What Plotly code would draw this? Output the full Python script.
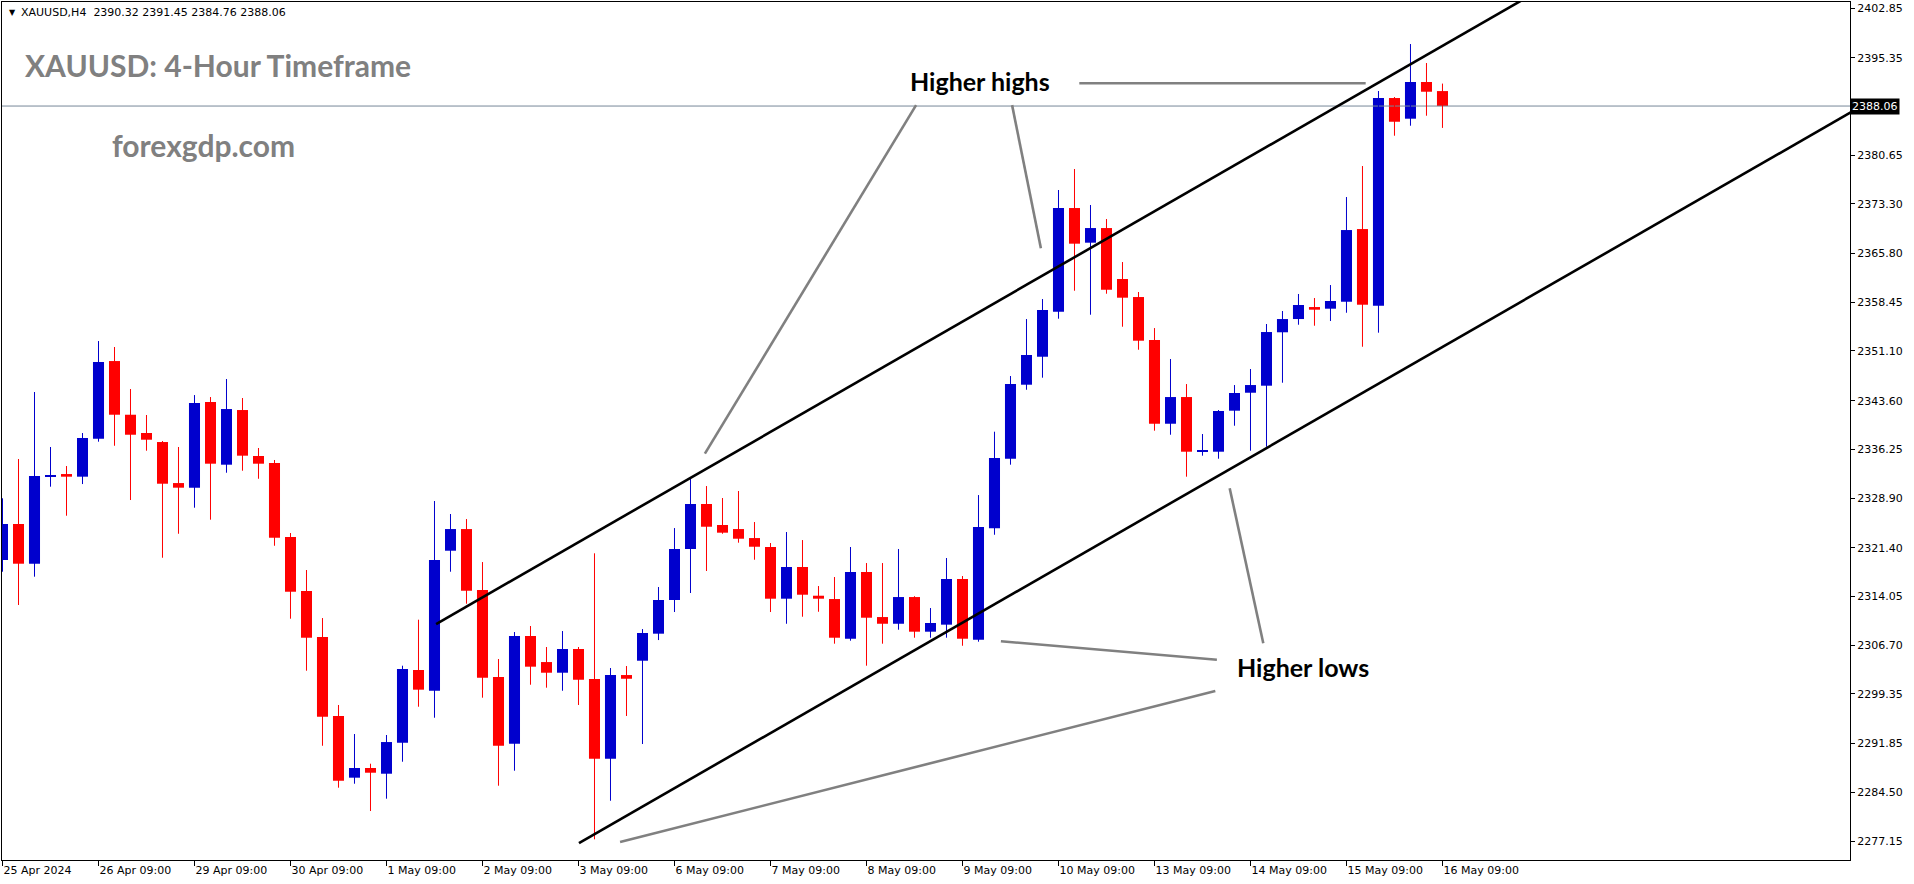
import plotly.graph_objects as go

# ---------------- data ----------------
day_labels = ["25 Apr 2024", "26 Apr 09:00", "29 Apr 09:00", "30 Apr 09:00", "1 May 09:00",
              "2 May 09:00", "3 May 09:00", "6 May 09:00", "7 May 09:00", "8 May 09:00",
              "9 May 09:00", "10 May 09:00", "13 May 09:00", "14 May 09:00", "15 May 09:00",
              "16 May 09:00"]
bars_per_day = 6

opens = [2319.56, 2324.99, 2319.00, 2332.20, 2332.53, 2332.13, 2337.86, 2349.58, 2341.48, 2338.72,
         2337.36, 2331.17, 2330.47, 2343.40, 2333.94, 2342.19, 2335.25, 2334.19, 2323.03, 2314.88,
         2307.93, 2296.01, 2286.71, 2288.17, 2287.31, 2291.99, 2302.96, 2299.84, 2320.96, 2324.23,
         2315.03, 2301.90, 2291.84, 2308.09, 2304.16, 2302.55, 2306.13, 2301.60, 2289.57, 2302.20,
         2304.36, 2308.44, 2313.52, 2321.22, 2328.01, 2324.84, 2324.23, 2322.87, 2321.52, 2313.72,
         2318.50, 2314.17, 2313.67, 2307.68, 2317.75, 2310.95, 2309.94, 2313.97, 2308.74, 2309.80,
         2316.69, 2307.53, 2324.34, 2334.84, 2346.01, 2350.23, 2357.02, 2372.67, 2367.44, 2369.65,
         2361.96, 2359.24, 2352.75, 2340.12, 2344.15, 2335.95, 2335.90, 2342.09, 2344.80, 2345.86,
         2353.92, 2355.92, 2357.73, 2357.48, 2358.53, 2369.50, 2357.93, 2389.27, 2386.15, 2391.69,
         2390.32]
highs = [2328.87, 2334.80, 2344.91, 2336.61, 2333.74, 2338.72, 2352.60, 2351.70, 2345.36, 2341.44,
         2337.51, 2336.61, 2344.45, 2344.15, 2346.87, 2344.00, 2336.46, 2334.65, 2323.63, 2318.05,
         2310.80, 2297.68, 2293.30, 2288.82, 2293.15, 2303.61, 2310.55, 2328.46, 2326.50, 2325.74,
         2319.25, 2304.62, 2308.69, 2309.60, 2306.43, 2308.84, 2306.43, 2320.57, 2303.26, 2303.56,
         2309.14, 2315.48, 2324.38, 2331.78, 2330.72, 2328.91, 2329.97, 2325.29, 2322.12, 2323.78,
         2322.57, 2315.63, 2316.99, 2321.52, 2319.10, 2319.10, 2321.22, 2314.10, 2312.31, 2319.86,
         2317.14, 2329.36, 2338.92, 2347.32, 2355.92, 2358.94, 2375.39, 2378.56, 2373.13, 2371.01,
         2364.52, 2360.00, 2354.56, 2349.89, 2346.11, 2338.57, 2342.19, 2345.96, 2348.38, 2355.17,
         2357.13, 2359.70, 2359.09, 2361.05, 2374.33, 2379.01, 2390.33, 2389.42, 2397.42, 2394.55,
         2391.45]
lows = [2317.79, 2312.77, 2317.04, 2330.62, 2326.24, 2331.02, 2337.41, 2336.80, 2328.61, 2336.05,
        2319.90, 2323.52, 2327.45, 2325.64, 2332.73, 2333.03, 2331.82, 2321.71, 2310.70, 2302.85,
        2291.53, 2285.20, 2285.80, 2281.68, 2283.54, 2289.12, 2297.42, 2295.76, 2317.79, 2312.96,
        2298.78, 2285.50, 2287.76, 2300.74, 2300.29, 2299.83, 2297.68, 2277.41, 2283.23, 2296.02,
        2291.79, 2307.48, 2311.71, 2314.58, 2317.90, 2323.52, 2322.17, 2319.60, 2311.71, 2309.94,
        2311.00, 2311.75, 2306.93, 2307.38, 2303.61, 2306.93, 2309.04, 2307.83, 2307.83, 2307.83,
        2306.62, 2307.23, 2323.37, 2333.94, 2345.25, 2347.07, 2355.97, 2360.19, 2356.57, 2359.74,
        2354.76, 2351.29, 2339.07, 2338.46, 2332.13, 2335.30, 2334.84, 2339.82, 2336.05, 2336.65,
        2346.31, 2355.06, 2354.91, 2355.62, 2356.87, 2351.74, 2353.86, 2383.58, 2385.09, 2386.60,
        2384.76]
closes = [2324.99, 2319.00, 2332.23, 2332.35, 2332.13, 2337.97, 2349.43, 2341.48, 2338.46, 2337.71,
          2331.07, 2330.47, 2343.25, 2334.09, 2342.34, 2335.30, 2334.09, 2322.92, 2314.77, 2307.83,
          2295.91, 2286.25, 2288.17, 2287.46, 2292.09, 2303.11, 2299.99, 2319.56, 2324.23, 2314.92,
          2301.79, 2291.53, 2308.09, 2303.46, 2302.55, 2306.13, 2301.49, 2289.57, 2302.20, 2301.64,
          2308.54, 2313.52, 2321.22, 2328.01, 2324.58, 2323.68, 2322.77, 2321.56, 2313.72, 2318.50,
          2314.32, 2313.72, 2307.83, 2317.75, 2310.85, 2309.94, 2313.97, 2308.74, 2310.05, 2316.69,
          2307.68, 2324.54, 2334.95, 2346.11, 2350.49, 2357.28, 2372.67, 2367.29, 2369.65, 2360.34,
          2359.14, 2352.65, 2340.12, 2344.15, 2335.90, 2336.10, 2342.04, 2344.76, 2345.96, 2353.96,
          2355.92, 2358.04, 2357.33, 2358.64, 2369.35, 2358.08, 2389.27, 2385.69, 2391.69, 2390.22,
          2388.06]

price_ticks = [2402.85, 2395.35, 2380.65, 2373.30, 2365.80, 2358.45, 2351.10, 2343.60, 2336.25,
               2328.90, 2321.40, 2314.05, 2306.70, 2299.35, 2291.85, 2284.50, 2277.15]
last_price = 2388.06
header_text = "XAUUSD,H4\u00a0\u00a02390.32 2391.45 2384.76 2388.06"

# channel anchor points (bar index, price)
upper_channel = [(27.1, 2309.90), (81.1, 2384.80)]
lower_channel = [(36.03, 2276.85), (112.4, 2382.78)]
# grey pointer lines (bar index, price)
pointer_lines = [
    [(57.1, 2388.2), (43.9, 2335.6)],
    [(63.1, 2388.2), (64.9, 2366.6)],
    [(67.3, 2391.5), (85.2, 2391.5)],
    [(76.7, 2330.4), (78.8, 2307.0)],
    [(62.4, 2307.3), (75.9, 2304.5)],
    [(38.6, 2277.0), (75.8, 2299.8)],
]

# ---------------- geometry ----------------
W, H = 1914, 884
ML, MR, MT, MB = 2, 64, 2, 24
PW, PH = W - ML - MR, H - MT - MB
X_RANGE = [-0.031, 115.47]
Y_RANGE = [2274.29, 2403.76]


def px(xp):
    return (xp - ML) / PW


def py(yp):
    return (H - MB - yp) / PH


BLUE = "#0000CD"
RED = "#FF0000"

fig = go.Figure()

# current price line
fig.add_trace(go.Scatter(x=[X_RANGE[0] - 5, X_RANGE[1] + 5], y=[last_price, last_price],
                         mode="lines", line=dict(color="#778899", width=1),
                         hoverinfo="skip", showlegend=False))

idx = list(range(len(opens)))
for bull, color in [(True, BLUE), (False, RED)]:
    sel = [i for i in idx if (closes[i] >= opens[i]) == bull]
    wx, wy = [], []
    for i in sel:
        wx += [i, i, None]
        wy += [lows[i], highs[i], None]
    fig.add_trace(go.Scatter(x=wx, y=wy, mode="lines", line=dict(color=color, width=1),
                             hoverinfo="skip", showlegend=False))
    fig.add_trace(go.Bar(x=sel,
                         base=[min(opens[i], closes[i]) for i in sel],
                         y=[max(abs(closes[i] - opens[i]), 0.16) for i in sel],
                         width=0.69, marker=dict(color=color, line=dict(width=0)),
                         hoverinfo="skip", showlegend=False))


def ray(points, x_end):
    (x0, y0), (x1, y1) = points
    k = (y1 - y0) / (x1 - x0)
    return [x0, x_end], [y0, y0 + k * (x_end - x0)]


for ch in (upper_channel, lower_channel):
    xs, ys = ray(ch, X_RANGE[1] + 2)
    fig.add_trace(go.Scatter(x=xs, y=ys, mode="lines", line=dict(color="black", width=2.6),
                             hoverinfo="skip", showlegend=False))

for seg in pointer_lines:
    fig.add_trace(go.Scatter(x=[p[0] for p in seg], y=[p[1] for p in seg], mode="lines",
                             line=dict(color="#808080", width=2.6),
                             hoverinfo="skip", showlegend=False))

axis_font = dict(family="DejaVu Sans", size=11, color="black")
annotations = [
    dict(text="\u25bc", x=px(7), y=py(12), xref="paper", yref="paper", xanchor="left",
         yanchor="middle", showarrow=False, font=dict(family="DejaVu Sans", size=8, color="black")),
    dict(text=header_text, x=px(19), y=py(12), xref="paper", yref="paper", xanchor="left",
         yanchor="middle", showarrow=False, font=axis_font),
    dict(text="XAUUSD: 4-Hour Timeframe", x=px(23), y=py(65), xref="paper", yref="paper",
         xanchor="left", yanchor="middle", showarrow=False,
         font=dict(family="Lato", size=30, color="#808080", weight="bold")),
    dict(text="forexgdp.com", x=px(110), y=py(145), xref="paper", yref="paper",
         xanchor="left", yanchor="middle", showarrow=False,
         font=dict(family="Lato", size=30, color="#808080", weight="bold")),
    dict(text="Higher highs", x=px(908), y=py(81), xref="paper", yref="paper",
         xanchor="left", yanchor="middle", showarrow=False,
         font=dict(family="Lato", size=25, color="black", weight="bold")),
    dict(text="Higher lows", x=px(1235), y=py(667), xref="paper", yref="paper",
         xanchor="left", yanchor="middle", showarrow=False,
         font=dict(family="Lato", size=25, color="black", weight="bold")),
    dict(text="%.2f" % last_price, x=1.0, y=last_price, xref="paper", yref="y",
         xanchor="left", yanchor="middle", showarrow=False, bgcolor="black", borderpad=1,
         font=dict(family="DejaVu Sans", size=11, color="white")),
]

fig.update_layout(
    width=W, height=H,
    margin=dict(l=ML, r=MR, t=MT, b=MB, pad=0),
    paper_bgcolor="white", plot_bgcolor="white",
    barmode="overlay", showlegend=False, hovermode=False,
    annotations=annotations,
    xaxis=dict(range=X_RANGE, tickvals=[d * bars_per_day for d in range(len(day_labels))],
               ticktext=day_labels, ticks="outside", ticklen=5, tickcolor="black",
               ticklabelposition="outside right",
               showline=True, linecolor="black", linewidth=1, mirror=True,
               showgrid=False, zeroline=False, tickfont=axis_font, fixedrange=True),
    yaxis=dict(range=Y_RANGE, side="right", tickvals=price_ticks,
               ticktext=["%.2f" % v for v in price_ticks], ticks="outside", ticklen=4,
               tickcolor="black", showline=True, linecolor="black", linewidth=1, mirror=True,
               showgrid=False, zeroline=False, tickfont=axis_font, fixedrange=True),
)

fig.write_html("out.html", config={"displayModeBar": False},
               post_script="document.body.style.margin='0';document.body.style.overflow='hidden';")
